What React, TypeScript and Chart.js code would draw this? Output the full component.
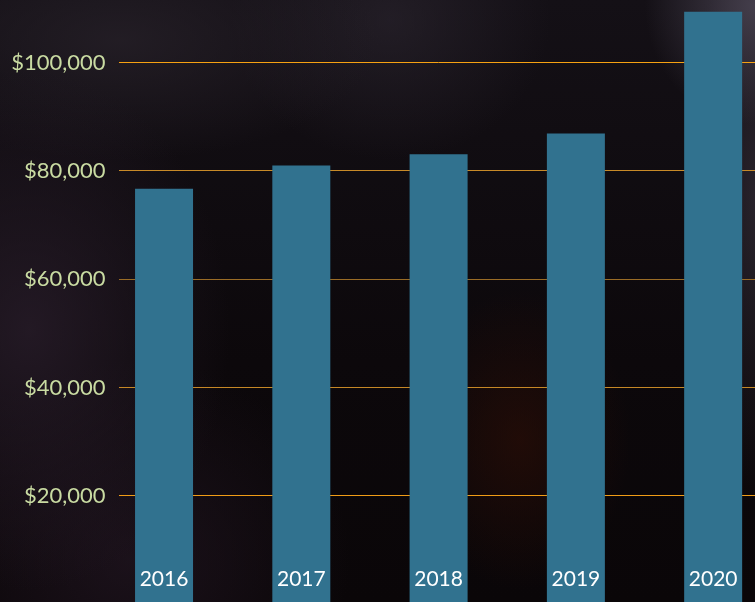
import React, { useEffect, useRef } from "react";
import { Chart, registerables } from "chart.js";

Chart.register(...registerables);

const years = ["2016", "2017", "2018", "2019", "2020"];
const salaries = [76700, 81000, 83100, 86900, 109400];
const yTickValues = [20000, 40000, 60000, 80000, 100000];
const gridLineColors = ["#f09c16", "#c68826", "#9a6c26", "#c88a28", "#f6a112"];

const CANVAS_W = 800;
const CANVAS_H = 604;
const Y_FONT_SIZE = 22;
const FONT_FAMILY = "Lato";

const formatMoney = (v: number) => "$" + Number(v).toLocaleString("en-US");

export default function App() {
  const canvasRef = useRef<HTMLCanvasElement | null>(null);

  useEffect(() => {
    const canvas = canvasRef.current;
    if (!canvas) return;
    const mctx = canvas.getContext("2d");
    let widest = 95;
    if (mctx) {
      mctx.font = `normal ${Y_FONT_SIZE}px ${FONT_FAMILY}`;
      widest = Math.max(...yTickValues.map((v) => mctx.measureText(formatMoney(v)).width));
    }
    const axisRight = 95.4;
    const labelRight = 105.5;
    const yPadding = labelRight - axisRight - widest;

    const chart = new Chart(canvas, {
      type: "bar",
      data: {
        labels: years,
        datasets: [
          {
            data: salaries,
            backgroundColor: "#31728f",
            borderWidth: 0,
            barPercentage: 0.4225,
            categoryPercentage: 1,
          },
        ],
      },
      options: {
        responsive: false,
        animation: false,
        layout: { padding: { left: 0, right: 18.2, top: 8.5, bottom: 0 } },
        plugins: { legend: { display: false }, tooltip: { enabled: false } },
        scales: {
          x: {
            grid: { display: false, drawTicks: false },
            border: { display: false },
            ticks: {
              z: 1,
              color: "#ffffff",
              mirror: true,
              padding: 12.4,
              maxRotation: 0,
              autoSkip: false,
              font: { family: FONT_FAMILY, size: 21 },
            },
            afterFit: (scale: any) => {
              scale.height = 0;
            },
          },
          y: {
            min: 0,
            max: 110000,
            border: { display: false },
            grid: {
              drawTicks: false,
              lineWidth: 1,
              color: (ctx: any) => {
                const v = ctx.tick ? ctx.tick.value : 0;
                const idx = yTickValues.indexOf(v);
                const c = idx >= 0 ? gridLineColors[idx] : "rgba(0,0,0,0)";
                const g = ctx.chart.ctx.createLinearGradient(0, 0, CANVAS_W, 0);
                const stop = 119 / CANVAS_W;
                g.addColorStop(0, "rgba(0,0,0,0)");
                g.addColorStop(stop, "rgba(0,0,0,0)");
                g.addColorStop(stop, c);
                g.addColorStop(1, c);
                return g;
              },
            },
            ticks: {
              color: "#c9dba2",
              mirror: true,
              crossAlign: "far",
              padding: yPadding,
              font: { family: FONT_FAMILY, size: Y_FONT_SIZE },
              callback: (value: any) => formatMoney(Number(value)),
            },
            afterBuildTicks: (scale: any) => {
              scale.ticks = yTickValues.map((v) => ({ value: v }));
            },
            afterFit: (scale: any) => {
              scale.width = axisRight;
            },
          },
        },
      },
    });
    return () => chart.destroy();
  }, []);

  const bg = [
    "radial-gradient(ellipse 110px 120px at 755px 5px, rgba(72,66,80,0.9), rgba(72,66,80,0) 100%)",
    "radial-gradient(ellipse 60px 300px at 755px 200px, rgba(50,44,54,0.7), rgba(50,44,54,0) 100%)",
    "radial-gradient(ellipse 110px 150px at 520px 440px, rgba(44,14,6,0.65), rgba(44,14,6,0) 100%)",
    "radial-gradient(ellipse 200px 260px at 30px 330px, rgba(42,30,44,0.75), rgba(42,30,44,0) 100%)",
    "radial-gradient(ellipse 260px 120px at 120px 40px, rgba(38,32,40,0.8), rgba(38,32,40,0) 100%)",
    "radial-gradient(ellipse 160px 140px at 390px 20px, rgba(44,38,48,0.6), rgba(44,38,48,0) 100%)",
    "radial-gradient(ellipse 220px 200px at 130px 560px, rgba(34,22,34,0.7), rgba(34,22,34,0) 100%)",
    "linear-gradient(180deg, #141016 0%, #0c080b 60%, #0a0608 100%)",
  ].join(", ");

  return (
    <div
      style={{
        position: "fixed",
        left: 0,
        top: 0,
        width: 755,
        height: 602,
        overflow: "hidden",
        background: bg,
      }}
    >
      <canvas
        ref={canvasRef}
        width={CANVAS_W}
        height={CANVAS_H}
        style={{ display: "block", width: CANVAS_W, height: CANVAS_H }}
      />
    </div>
  );
}
